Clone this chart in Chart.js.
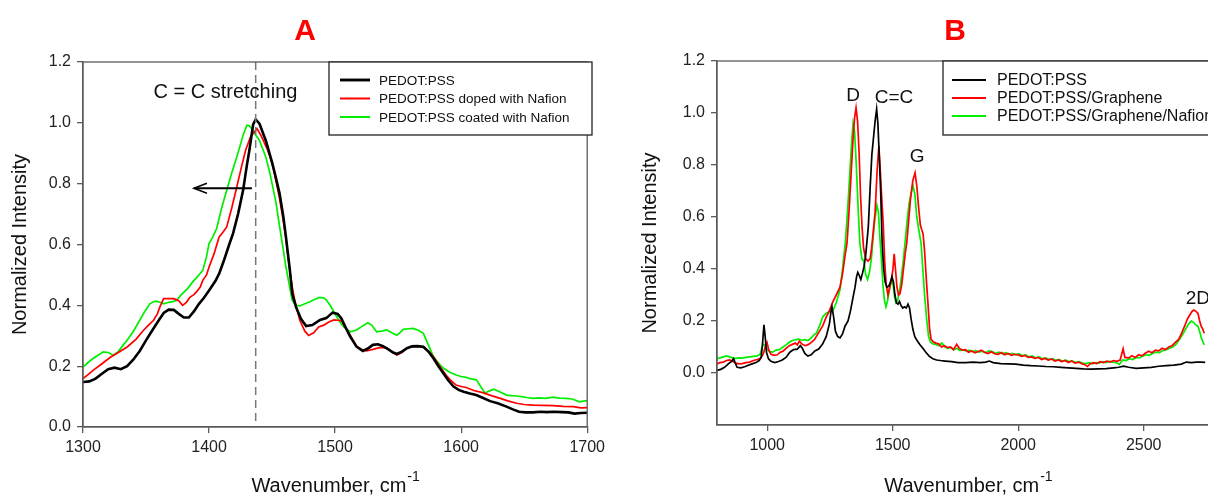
<!DOCTYPE html>
<html>
<head>
<meta charset="utf-8">
<script src="https://cdn.jsdelivr.net/npm/chart.js@4.4.1/dist/chart.umd.min.js"></script>
<style>
  html, body { margin: 0; padding: 0; background: #fff; overflow: hidden; width: 1208px; height: 497px; }
  #wrapA { position: absolute; left: 0; top: 0; width: 610px; height: 497px; }
  #wrapB { position: absolute; left: 610px; top: 0; width: 690px; height: 497px; }
</style>
</head>
<body>
<div id="wrapA"><canvas id="chartA" width="610" height="497"></canvas></div>
<div id="wrapB"><canvas id="chartB" width="690" height="497"></canvas></div>
<script>
// ---- panel A : [wavenumber, normalized intensity] ----
const aBlack = [[1300,0.148],[1305,0.15],[1310,0.159],[1315,0.175],[1320,0.19],[1325,0.195],[1330,0.19],[1335,0.2],[1340,0.222],[1345,0.25],[1350,0.285],[1355,0.318],[1360,0.35],[1364,0.375],[1368,0.386],[1372,0.385],[1376,0.372],[1380,0.36],[1384,0.36],[1388,0.38],[1392,0.405],[1396,0.425],[1400,0.449],[1405,0.48],[1408,0.504],[1412,0.55],[1416,0.6],[1419,0.636],[1423,0.7],[1427,0.778],[1430,0.86],[1432,0.91],[1435,0.995],[1437,1.011],[1440,0.997],[1445,0.942],[1450,0.87],[1453,0.82],[1456,0.767],[1459,0.69],[1461,0.625],[1464,0.52],[1466,0.438],[1469,0.394],[1473,0.355],[1477,0.332],[1482,0.335],[1488,0.352],[1493,0.358],[1498,0.376],[1502,0.372],[1505,0.357],[1508,0.33],[1512,0.297],[1517,0.264],[1522,0.25],[1526,0.258],[1530,0.27],[1534,0.272],[1538,0.266],[1542,0.256],[1546,0.245],[1549,0.24],[1553,0.248],[1557,0.259],[1561,0.265],[1565,0.266],[1570,0.264],[1574,0.248],[1578,0.226],[1582,0.2],[1586,0.176],[1590,0.152],[1594,0.133],[1598,0.122],[1602,0.116],[1607,0.11],[1612,0.105],[1617,0.096],[1623,0.085],[1629,0.078],[1636,0.067],[1641,0.058],[1646,0.05],[1651,0.048],[1657,0.048],[1663,0.05],[1668,0.049],[1673,0.05],[1680,0.049],[1685,0.048],[1690,0.044],[1695,0.046],[1700,0.047]];
const aRed = [[1300,0.159],[1304,0.172],[1308,0.186],[1315,0.208],[1322,0.23],[1328,0.245],[1335,0.263],[1342,0.288],[1348,0.318],[1352,0.335],[1356,0.351],[1359,0.372],[1361,0.395],[1364,0.422],[1368,0.422],[1372,0.422],[1376,0.415],[1379,0.4],[1382,0.41],[1385,0.427],[1388,0.435],[1390,0.444],[1393,0.46],[1395,0.482],[1398,0.5],[1400,0.526],[1404,0.57],[1408,0.625],[1411,0.64],[1414,0.658],[1418,0.72],[1422,0.789],[1426,0.86],[1429,0.91],[1433,0.955],[1436,0.97],[1438,0.981],[1441,0.96],[1443,0.942],[1446,0.915],[1448,0.893],[1451,0.85],[1453,0.811],[1456,0.75],[1458,0.7],[1461,0.62],[1463,0.548],[1466,0.46],[1468,0.416],[1472,0.351],[1476,0.315],[1479,0.301],[1483,0.31],[1487,0.329],[1491,0.335],[1495,0.345],[1499,0.352],[1502,0.351],[1505,0.35],[1508,0.33],[1512,0.302],[1517,0.266],[1521,0.255],[1525,0.25],[1530,0.255],[1536,0.262],[1541,0.259],[1545,0.248],[1549,0.237],[1553,0.245],[1557,0.259],[1561,0.264],[1565,0.266],[1570,0.262],[1574,0.25],[1578,0.231],[1583,0.2],[1588,0.171],[1592,0.152],[1596,0.138],[1600,0.133],[1604,0.13],[1610,0.12],[1617,0.113],[1624,0.103],[1631,0.094],[1637,0.086],[1644,0.078],[1650,0.074],[1657,0.072],[1665,0.071],[1673,0.07],[1681,0.068],[1689,0.067],[1695,0.063],[1700,0.064]];
const aGreen = [[1300,0.197],[1304,0.212],[1308,0.225],[1312,0.236],[1316,0.247],[1320,0.245],[1324,0.236],[1328,0.248],[1332,0.27],[1335,0.285],[1340,0.315],[1345,0.351],[1349,0.38],[1353,0.405],[1356,0.412],[1358,0.414],[1361,0.41],[1364,0.405],[1368,0.41],[1371,0.412],[1374,0.416],[1378,0.435],[1383,0.455],[1387,0.477],[1391,0.495],[1395,0.515],[1398,0.56],[1400,0.603],[1403,0.625],[1406,0.652],[1410,0.72],[1414,0.778],[1418,0.835],[1422,0.888],[1425,0.93],[1427,0.959],[1430,0.992],[1432,0.99],[1435,0.975],[1437,0.96],[1440,0.942],[1443,0.91],[1445,0.888],[1448,0.84],[1450,0.8],[1453,0.74],[1456,0.658],[1459,0.58],[1461,0.526],[1464,0.46],[1466,0.416],[1469,0.4],[1472,0.398],[1476,0.405],[1480,0.412],[1484,0.42],[1488,0.426],[1491,0.424],[1493,0.418],[1496,0.4],[1499,0.379],[1503,0.35],[1507,0.328],[1512,0.313],[1517,0.319],[1521,0.33],[1526,0.343],[1529,0.335],[1533,0.313],[1537,0.315],[1541,0.319],[1545,0.31],[1549,0.302],[1552,0.312],[1554,0.321],[1558,0.323],[1562,0.324],[1566,0.318],[1570,0.308],[1574,0.27],[1578,0.231],[1582,0.21],[1586,0.193],[1591,0.18],[1596,0.171],[1600,0.166],[1604,0.163],[1608,0.158],[1612,0.155],[1616,0.13],[1619,0.111],[1622,0.118],[1626,0.124],[1631,0.115],[1636,0.105],[1640,0.103],[1644,0.102],[1648,0.1],[1652,0.097],[1657,0.094],[1662,0.096],[1667,0.094],[1673,0.098],[1678,0.095],[1683,0.094],[1688,0.092],[1694,0.083],[1697,0.085],[1700,0.087]];

// ---- panel B ----
const bBlack = [[800,0.01],[815,0.014],[830,0.022],[845,0.035],[858,0.045],[866,0.055],[872,0.04],[880,0.022],[895,0.02],[910,0.024],[925,0.03],[940,0.035],[955,0.04],[968,0.048],[976,0.06],[982,0.12],[987,0.185],[992,0.14],[997,0.08],[1005,0.055],[1015,0.045],[1030,0.04],[1045,0.044],[1060,0.05],[1075,0.06],[1090,0.08],[1105,0.09],[1120,0.092],[1132,0.105],[1140,0.095],[1150,0.075],[1162,0.065],[1175,0.07],[1190,0.085],[1205,0.092],[1220,0.11],[1235,0.14],[1248,0.19],[1254,0.235],[1258,0.255],[1264,0.22],[1272,0.16],[1281,0.14],[1290,0.135],[1300,0.15],[1310,0.18],[1322,0.2],[1332,0.24],[1341,0.286],[1350,0.33],[1356,0.37],[1361,0.387],[1367,0.375],[1373,0.36],[1380,0.385],[1386,0.41],[1392,0.45],[1397,0.5],[1403,0.565],[1410,0.71],[1417,0.84],[1423,0.9],[1430,0.97],[1436,1.015],[1441,0.96],[1447,0.82],[1452,0.7],[1458,0.5],[1464,0.4],[1470,0.35],[1477,0.33],[1485,0.335],[1491,0.35],[1497,0.37],[1503,0.35],[1509,0.3],[1515,0.27],[1521,0.265],[1527,0.275],[1533,0.26],[1540,0.25],[1547,0.255],[1554,0.25],[1561,0.265],[1567,0.25],[1573,0.21],[1580,0.17],[1588,0.14],[1597,0.125],[1608,0.11],[1620,0.095],[1632,0.08],[1645,0.065],[1660,0.055],[1675,0.05],[1690,0.048],[1710,0.046],[1735,0.044],[1760,0.04],[1790,0.04],[1820,0.042],[1850,0.04],[1870,0.042],[1885,0.046],[1900,0.04],[1930,0.036],[1960,0.035],[1990,0.034],[2020,0.03],[2050,0.028],[2080,0.027],[2110,0.025],[2140,0.024],[2170,0.022],[2200,0.02],[2230,0.018],[2260,0.016],[2290,0.015],[2320,0.016],[2350,0.017],[2380,0.02],[2400,0.022],[2420,0.026],[2440,0.022],[2470,0.018],[2500,0.02],[2530,0.022],[2560,0.026],[2590,0.028],[2620,0.03],[2650,0.034],[2670,0.042],[2690,0.04],[2710,0.042],[2730,0.042],[2745,0.041]];
const bRed = [[800,0.035],[812,0.04],[825,0.042],[838,0.048],[850,0.05],[862,0.045],[875,0.038],[888,0.035],[900,0.036],[915,0.04],[930,0.042],[945,0.048],[960,0.052],[975,0.058],[985,0.075],[992,0.1],[999,0.118],[1006,0.09],[1015,0.072],[1028,0.068],[1040,0.07],[1052,0.08],[1063,0.084],[1075,0.095],[1088,0.105],[1100,0.11],[1112,0.115],[1120,0.108],[1128,0.122],[1140,0.11],[1152,0.105],[1165,0.11],[1178,0.12],[1188,0.128],[1196,0.141],[1208,0.16],[1222,0.183],[1235,0.215],[1248,0.24],[1262,0.275],[1275,0.3],[1290,0.33],[1300,0.38],[1310,0.45],[1318,0.5],[1326,0.62],[1334,0.76],[1342,0.9],[1348,0.98],[1354,1.02],[1360,0.97],[1366,0.85],[1372,0.68],[1378,0.56],[1384,0.48],[1392,0.44],[1402,0.43],[1410,0.44],[1416,0.48],[1422,0.54],[1430,0.62],[1438,0.78],[1445,0.874],[1451,0.77],[1457,0.66],[1462,0.58],[1468,0.43],[1474,0.34],[1481,0.3],[1488,0.33],[1495,0.36],[1501,0.4],[1506,0.458],[1511,0.4],[1517,0.33],[1523,0.3],[1529,0.305],[1536,0.34],[1543,0.4],[1550,0.46],[1556,0.5],[1563,0.58],[1571,0.67],[1580,0.74],[1589,0.77],[1596,0.72],[1603,0.64],[1610,0.57],[1616,0.55],[1621,0.535],[1627,0.47],[1634,0.36],[1641,0.26],[1647,0.17],[1653,0.13],[1661,0.12],[1672,0.115],[1683,0.112],[1695,0.1],[1706,0.105],[1718,0.098],[1730,0.1],[1742,0.09],[1755,0.11],[1765,0.095],[1778,0.088],[1790,0.09],[1802,0.08],[1815,0.085],[1828,0.078],[1840,0.083],[1853,0.088],[1866,0.08],[1880,0.075],[1893,0.082],[1906,0.074],[1920,0.072],[1933,0.079],[1946,0.07],[1960,0.075],[1973,0.068],[1986,0.072],[2000,0.07],[2013,0.064],[2026,0.068],[2040,0.06],[2053,0.062],[2066,0.056],[2080,0.06],[2093,0.052],[2106,0.056],[2120,0.05],[2133,0.054],[2146,0.046],[2160,0.05],[2173,0.044],[2186,0.048],[2200,0.04],[2213,0.046],[2226,0.038],[2240,0.042],[2253,0.036],[2266,0.032],[2276,0.025],[2286,0.035],[2300,0.04],[2313,0.036],[2326,0.044],[2340,0.04],[2353,0.046],[2366,0.042],[2380,0.048],[2393,0.045],[2406,0.05],[2413,0.075],[2418,0.093],[2425,0.06],[2440,0.058],[2453,0.066],[2466,0.06],[2480,0.07],[2493,0.066],[2506,0.076],[2520,0.084],[2533,0.078],[2546,0.088],[2560,0.085],[2573,0.095],[2586,0.09],[2600,0.1],[2613,0.105],[2626,0.118],[2640,0.13],[2652,0.155],[2663,0.18],[2673,0.205],[2683,0.222],[2692,0.236],[2699,0.242],[2707,0.238],[2716,0.23],[2723,0.2],[2729,0.18],[2735,0.17],[2741,0.153]];
const bGreen = [[800,0.055],[812,0.058],[825,0.062],[838,0.066],[850,0.062],[862,0.058],[875,0.056],[888,0.058],[900,0.057],[915,0.06],[930,0.062],[945,0.064],[960,0.066],[972,0.072],[980,0.1],[986,0.11],[993,0.105],[1000,0.09],[1010,0.082],[1022,0.08],[1035,0.088],[1048,0.09],[1063,0.1],[1075,0.108],[1088,0.118],[1100,0.125],[1112,0.128],[1125,0.13],[1138,0.126],[1150,0.128],[1163,0.125],[1175,0.135],[1188,0.148],[1196,0.153],[1208,0.18],[1222,0.217],[1235,0.23],[1250,0.237],[1262,0.24],[1275,0.27],[1290,0.32],[1300,0.4],[1311,0.5],[1320,0.62],[1328,0.75],[1336,0.88],[1342,0.96],[1348,0.93],[1355,0.8],[1362,0.64],[1369,0.5],[1377,0.44],[1385,0.43],[1392,0.38],[1400,0.36],[1408,0.39],[1415,0.44],[1422,0.52],[1430,0.6],[1437,0.645],[1443,0.62],[1449,0.52],[1455,0.44],[1461,0.34],[1467,0.28],[1473,0.255],[1480,0.28],[1487,0.32],[1492,0.34],[1497,0.36],[1503,0.33],[1508,0.29],[1513,0.27],[1520,0.28],[1528,0.32],[1536,0.38],[1543,0.44],[1549,0.5],[1557,0.58],[1565,0.65],[1573,0.69],[1581,0.72],[1588,0.69],[1596,0.6],[1604,0.55],[1613,0.5],[1620,0.4],[1627,0.3],[1636,0.2],[1643,0.14],[1650,0.12],[1660,0.112],[1672,0.11],[1684,0.105],[1696,0.115],[1708,0.1],[1720,0.095],[1732,0.098],[1744,0.09],[1756,0.094],[1768,0.086],[1780,0.09],[1792,0.084],[1805,0.088],[1818,0.082],[1830,0.086],[1843,0.08],[1856,0.084],[1870,0.078],[1883,0.085],[1896,0.082],[1910,0.076],[1923,0.08],[1936,0.074],[1950,0.078],[1963,0.072],[1976,0.075],[1990,0.07],[2003,0.074],[2016,0.066],[2030,0.07],[2043,0.062],[2056,0.066],[2070,0.058],[2083,0.062],[2096,0.055],[2110,0.058],[2123,0.052],[2136,0.055],[2150,0.049],[2163,0.052],[2176,0.045],[2190,0.049],[2203,0.044],[2216,0.046],[2230,0.04],[2243,0.044],[2256,0.038],[2270,0.036],[2283,0.04],[2296,0.035],[2310,0.04],[2323,0.038],[2336,0.044],[2350,0.04],[2363,0.045],[2376,0.042],[2390,0.04],[2403,0.033],[2416,0.05],[2430,0.048],[2443,0.055],[2456,0.052],[2470,0.06],[2483,0.058],[2496,0.065],[2510,0.07],[2523,0.068],[2536,0.076],[2550,0.08],[2563,0.078],[2576,0.086],[2590,0.09],[2603,0.095],[2616,0.1],[2630,0.112],[2643,0.13],[2656,0.15],[2668,0.17],[2680,0.19],[2690,0.2],[2698,0.195],[2707,0.185],[2716,0.18],[2723,0.16],[2730,0.134],[2736,0.12],[2741,0.108]];

const aLabels = ['PEDOT:PSS', 'PEDOT:PSS doped with Nafion', 'PEDOT:PSS coated with Nafion'];
const bLabels = ['PEDOT:PSS', 'PEDOT:PSS/Graphene', 'PEDOT:PSS/Graphene/Nafion'];

const aXTicks = [1300, 1400, 1500, 1600, 1700];
const aYTicks = [0, 0.2, 0.4, 0.6, 0.8, 1.0, 1.2];
const bXTicks = [1000, 1500, 2000, 2500];
const bYTicks = [0, 0.2, 0.4, 0.6, 0.8, 1.0, 1.2];

const FONT = '"Liberation Sans", Arial, Helvetica, sans-serif';
const AXIS = '#5a5a5a';
const COLORS = ['#000000', '#ff0000', '#00ee00'];

const toPts = arr => arr.map(p => ({ x: p[0], y: p[1] }));

// draws frame, panel letter, axis titles, legend box and text notes
const decor = {
  id: 'decor',
  afterDraw(chart, args, o) {
    const ctx = chart.ctx, a = chart.chartArea;
    const xs = chart.scales.x, ys = chart.scales.y;
    ctx.save();

    // dashed guide + arrow (panel A)
    if (o.guide) {
      const gx = xs.getPixelForValue(o.guide);
      ctx.strokeStyle = '#777';
      ctx.lineWidth = 1.5;
      ctx.setLineDash([8, 5]);
      ctx.beginPath(); ctx.moveTo(gx, a.top); ctx.lineTo(gx, a.bottom); ctx.stroke();
      ctx.setLineDash([]);
    }
    if (o.arrow) {
      const x1 = xs.getPixelForValue(o.arrow.from), x2 = xs.getPixelForValue(o.arrow.to);
      const y = ys.getPixelForValue(o.arrow.y);
      ctx.strokeStyle = '#000'; ctx.lineWidth = 2;
      ctx.beginPath(); ctx.moveTo(x1, y); ctx.lineTo(x2, y); ctx.stroke();
      ctx.lineWidth = 1.5;
      ctx.beginPath();
      ctx.moveTo(x2 + 13, y - 5); ctx.lineTo(x2, y); ctx.lineTo(x2 + 13, y + 5);
      ctx.stroke();
    }

    // frame
    ctx.strokeStyle = AXIS; ctx.lineWidth = 1.3;
    ctx.strokeRect(a.left, a.top, a.right - a.left, a.bottom - a.top);

    // panel letter
    ctx.fillStyle = '#ff0000';
    ctx.font = 'bold 30px ' + FONT;
    ctx.textAlign = 'center'; ctx.textBaseline = 'middle';
    ctx.fillText(o.letter, o.letterX, 32);

    // y title
    ctx.fillStyle = '#111';
    ctx.font = '20px ' + FONT;
    ctx.save();
    ctx.translate(o.yTitleX, (a.top + a.bottom) / 2);
    ctx.rotate(-Math.PI / 2);
    ctx.fillText('Normalized Intensity', 0, 0);
    ctx.restore();

    // x title with superscript
    const main = 'Wavenumber, cm';
    ctx.font = '20px ' + FONT;
    const wMain = ctx.measureText(main).width;
    ctx.font = '14px ' + FONT;
    const wSup = ctx.measureText('-1').width;
    const cx = (o.xTitleCenter !== undefined) ? o.xTitleCenter : (a.left + a.right) / 2;
    const left = cx - (wMain + wSup) / 2;
    ctx.textAlign = 'left'; ctx.textBaseline = 'alphabetic';
    ctx.font = '20px ' + FONT;
    ctx.fillText(main, left, 492);
    ctx.font = '14px ' + FONT;
    ctx.fillText('-1', left + wMain + 1, 481);

    // legend box
    const lg = o.legend;
    ctx.fillStyle = '#fff';
    ctx.fillRect(lg.left, lg.top, lg.right - lg.left, lg.bottom - lg.top);
    ctx.strokeStyle = '#222'; ctx.lineWidth = 1.3;
    ctx.strokeRect(lg.left, lg.top, lg.right - lg.left, lg.bottom - lg.top);
    ctx.font = lg.fontSize + 'px ' + FONT;
    ctx.textBaseline = 'middle'; ctx.textAlign = 'left';
    chart.data.datasets.forEach((ds, i) => {
      const yy = lg.rowTop + i * lg.rowGap;
      ctx.strokeStyle = ds.borderColor; ctx.lineWidth = ds.borderWidth + 0.3;
      ctx.beginPath(); ctx.moveTo(lg.lineX1, yy); ctx.lineTo(lg.lineX2, yy); ctx.stroke();
      ctx.fillStyle = '#111';
      ctx.fillText(ds.label, lg.textX, yy + 1);
    });

    // notes
    ctx.textAlign = 'center'; ctx.textBaseline = 'middle';
    (o.notes || []).forEach(n => {
      ctx.font = n.size + 'px ' + FONT;
      ctx.fillStyle = '#111';
      ctx.fillText(n.text, xs.getPixelForValue(n.x), ys.getPixelForValue(n.y));
    });
    ctx.restore();
  }
};

function makeChart(canvasId, series, labels, widths, cfg) {
  return new Chart(document.getElementById(canvasId), {
    type: 'line',
    data: {
      datasets: series.map((s, i) => ({
        label: labels[i],
        data: toPts(s),
        borderColor: COLORS[i],
        borderWidth: widths[i],
        pointRadius: 0,
        tension: 0,
        fill: false
      }))
    },
    options: {
      responsive: false,
      animation: false,
      layout: { padding: cfg.padding },
      plugins: {
        legend: { display: false },
        tooltip: { enabled: false },
        title: { display: false },
        decor: cfg.decor
      },
      scales: {
        x: {
          type: 'linear',
          min: cfg.xMin, max: cfg.xMax,
          afterBuildTicks: sc => { sc.ticks = cfg.xTicks.map(v => ({ value: v })); },
          afterFit: sc => { sc.height = 30; },
          grid: { drawOnChartArea: false, drawTicks: true, tickLength: 6, tickColor: AXIS, lineWidth: 1.3 },
          border: { color: AXIS, width: 1.3 },
          ticks: { color: '#222', font: { family: FONT, size: 16 }, padding: 5, maxRotation: 0,
                   callback: v => String(v) }
        },
        y: {
          min: cfg.yMin, max: cfg.yMax,
          afterBuildTicks: sc => { sc.ticks = cfg.yTicks.map(v => ({ value: v })); },
          afterFit: sc => { sc.width = 50; },
          grid: { drawOnChartArea: false, drawTicks: true, tickLength: 6, tickColor: AXIS, lineWidth: 1.3 },
          border: { color: AXIS, width: 1.3 },
          ticks: { color: '#222', font: { family: FONT, size: 16 }, padding: 6,
                   callback: v => Number(v).toFixed(1) }
        }
      }
    },
    plugins: [decor]
  });
}

makeChart('chartA', [aBlack, aRed, aGreen], aLabels, [2.6, 1.7, 1.7], {
  padding: { left: 33, right: 22, top: 62, bottom: 40 },
  xMin: 1300, xMax: 1700, yMin: 0, yMax: 1.2,
  xTicks: aXTicks, yTicks: aYTicks,
  decor: {
    letter: 'A', letterX: 305, yTitleX: 20,
    guide: 1437,
    arrow: { from: 1434, to: 1388, y: 0.785 },
    legend: { left: 329, right: 592, top: 62, bottom: 135, rowTop: 80, rowGap: 18.5,
              lineX1: 340, lineX2: 370, textX: 379, fontSize: 13.5 },
    notes: [{ text: 'C = C stretching', x: 1413, y: 1.1, size: 20 }]
  }
});

makeChart('chartB', [bBlack, bRed, bGreen], bLabels, [1.7, 1.7, 1.7], {
  padding: { left: 57, right: 81, top: 61, bottom: 42 },
  xMin: 800, xMax: 2800, yMin: -0.2, yMax: 1.2,
  xTicks: bXTicks, yTicks: bYTicks,
  decor: {
    letter: 'B', letterX: 345, yTitleX: 40,
    legend: { left: 333, right: 700, top: 61, bottom: 135, rowTop: 80, rowGap: 18,
              lineX1: 342, lineX2: 376, textX: 387, fontSize: 16 },
    notes: [
      { text: 'D', x: 1342, y: 1.065, size: 19 },
      { text: 'C=C', x: 1505, y: 1.06, size: 19 },
      { text: 'G', x: 1597, y: 0.83, size: 19 },
      { text: '2D', x: 2716, y: 0.285, size: 19 }
    ]
  }
});
</script>
</body>
</html>
